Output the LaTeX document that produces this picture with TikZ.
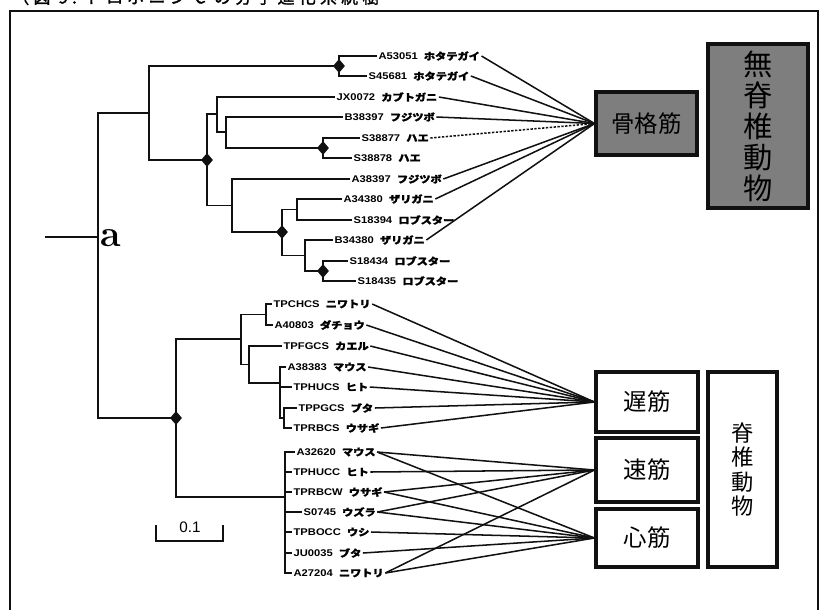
\documentclass[tikz,border=0pt]{standalone}
\usepackage{fontspec}
\newfontfamily\lsans{Liberation Sans}
\newfontfamily\jp{Noto Sans CJK JP}
\newfontfamily\jpbold{Noto Sans CJK JP}[FakeBold=1.6]
\newfontfamily\jptitle{Noto Sans CJK JP}[FakeBold=1.6,LetterSpace=25]
\usetikzlibrary{calc,positioning,shapes.geometric}
\definecolor{Ink}{HTML}{111111}
\definecolor{Shade}{HTML}{7E7E7E}
\newcommand\leafname[2]{\scalebox{1.15}[1]{\lsans\bfseries #1\hspace{0.55em}{\jpbold #2}}}

\begin{document}
\begin{tikzpicture}[x=0.3mm,y=-0.3mm,
  leaf/.style={anchor=west,inner sep=1.2pt,font=\fontsize{8.3}{9}\selectfont},
  tree/.style={line width=1.6pt,Ink},
  link/.style={line width=1.3pt,Ink},
  knot/.style={diamond,fill=Ink,inner sep=0pt,minimum width=3.6mm,minimum height=4.2mm},
  musclebox/.style={draw=Ink,line width=2.6pt,inner sep=0pt,font=\jp\fontsize{20}{22}\selectfont},
  taxonbox/.style={draw=Ink,line width=2.6pt,inner sep=0pt,align=center}]
\useasboundingbox (0,0) rectangle (824,609);
\clip (0,0) rectangle (824,609);

% Caption and frame.
\node[anchor=west,inner sep=0pt,font=\jptitle\fontsize{14.5}{15}\selectfont] (caption) at (12,-3)
  {（図 9.\ トロポニン C の分子進化系統樹};
\draw[line width=1.2pt,Ink] (10,620) |- (818,11) -- (818,620);

% Invertebrate leaves.
\foreach \id/\sp/\x/\y in {A53051/ホタテガイ/377/56, S45681/ホタテガイ/367/76,
    JX0072/カブトガニ/335/97, B38397/フジツボ/343/117, S38877/ハエ/360/138,
    S38878/ハエ/352/158, A38397/フジツボ/350/179, A34380/ザリガニ/342/199,
    S18394/ロブスター/352/220, B34380/ザリガニ/333/240,
    S18434/ロブスター/348/261, S18435/ロブスター/356/281}
  \node[leaf] (\id) at (\x,\y) {\leafname{\id}{\sp}};

% Vertebrate leaves.
\foreach \id/\sp/\x/\y in {TPCHCS/ニワトリ/272/304, A40803/ダチョウ/273/325,
    TPFGCS/カエル/282/346, A38383/マウス/286/367, TPHUCS/ヒト/292/387,
    TPPGCS/ブタ/297/408, TPRBCS/ウサギ/292/428,
    A32620/マウス/295/452, TPHUCC/ヒト/292/472, TPRBCW/ウサギ/292/492,
    S0745/ウズラ/302/512, TPBOCC/ウシ/292/532, JU0035/ブタ/292/553,
    A27204/ニワトリ/292/573}
  \node[leaf] (\id) at (\x,\y) {\leafname{\id}{\sp}};

% Branch points.
\coordinate (stub) at (45,237);
\coordinate (root) at (98,237);
\coordinate (inv) at (149,113);
\coordinate (scallop) at (339,66);
\coordinate (arth) at (207,160);
\coordinate (crab) at (217,114);
\coordinate (barn) at (226,132);
\coordinate (fly) at (323,148);
\coordinate (crus) at (232,205.5);
\coordinate (dec) at (282,232);
\coordinate (cray) at (297,209.5);
\coordinate (lobs) at (305,255.5);
\coordinate (lobtwo) at (323,271);
\coordinate (vert) at (176,418);
\coordinate (slowcl) at (241,339);
\coordinate (birds) at (266,314.5);
\coordinate (tetra) at (249,364.5);
\coordinate (mamm) at (280,383);
\coordinate (pigrab) at (284,418);
\coordinate (cardcl) at (285,497);

% Tree.
\draw[tree] (stub) -- (root);
\draw[tree] (root) |- (inv);
\draw[tree] (root) |- (vert);
\draw[tree] (inv) |- (scallop);
\draw[tree] (inv) |- (arth);
\draw[tree] (scallop) |- (A53051.west);
\draw[tree] (scallop) |- (S45681.west);
\draw[tree] (arth) |- (crab);
\draw[tree] (arth) |- (crus);
\draw[tree] (crab) |- (JX0072.west);
\draw[tree] (crab) |- (barn);
\draw[tree] (barn) |- (B38397.west);
\draw[tree] (barn) |- (fly);
\draw[tree] (fly) |- (S38877.west);
\draw[tree] (fly) |- (S38878.west);
\draw[tree] (crus) |- (A38397.west);
\draw[tree] (crus) |- (dec);
\draw[tree] (dec) |- (cray);
\draw[tree] (dec) |- (lobs);
\draw[tree] (cray) |- (A34380.west);
\draw[tree] (cray) |- (S18394.west);
\draw[tree] (lobs) |- (B34380.west);
\draw[tree] (lobs) |- (lobtwo);
\draw[tree] (lobtwo) |- (S18434.west);
\draw[tree] (lobtwo) |- (S18435.west);

\draw[tree] (vert) |- (slowcl);
\draw[tree] (vert) |- (cardcl);
\draw[tree] (slowcl) |- (birds);
\draw[tree] (slowcl) |- (tetra);
\draw[tree] (birds) |- (TPCHCS.west);
\draw[tree] (birds) |- (A40803.west);
\draw[tree] (tetra) |- (TPFGCS.west);
\draw[tree] (tetra) |- (mamm);
\draw[tree] (mamm) |- (A38383.west);
\draw[tree] (mamm) |- (TPHUCS.west);
\draw[tree] (mamm) |- (pigrab);
\draw[tree] (pigrab) |- (TPPGCS.west);
\draw[tree] (pigrab) |- (TPRBCS.west);
\foreach \id in {A32620,TPHUCC,TPRBCW,S0745,TPBOCC,JU0035,A27204}
  \draw[tree] (cardcl) |- (\id.west);

\foreach \c in {scallop,arth,fly,dec,lobtwo,vert}
  \node[knot] at (\c) {};

\node[font=\bfseries\fontsize{32}{32}\selectfont,inner sep=0pt] (alabel) at (111,238) {a};

% Scale bar.
\coordinate (barl) at (156,525);
\coordinate (barr) at (223,525);
\draw[line width=1.3pt,Ink] (barl) -- ++(0,16) -| (barr);
\node[font=\lsans\fontsize{13}{13}\selectfont,inner sep=0pt] (barlabel) at (190,527) {0.1};

% Muscle and taxon boxes.
\node[musclebox,fill=Shade,minimum width=30.3mm,minimum height=18.9mm] (skel) at (646.5,123.5) {骨格筋};
\node[taxonbox,fill=Shade,minimum width=30mm,minimum height=49.2mm,
  font=\jp\fontsize{25}{26.5}\selectfont] (invert) at (758,126) {無\\脊\\椎\\動\\物};
\node[musclebox,minimum width=30.6mm,minimum height=18mm] (slow) at (647,402) {遅筋};
\node[musclebox,minimum width=30.6mm,minimum height=19.2mm] (fast) at (647,470) {速筋};
\node[musclebox,minimum width=30.6mm,minimum height=17.4mm] (heart) at (647,538) {心筋};
\node[taxonbox,minimum width=20.7mm,minimum height=58.5mm,
  font=\jp\fontsize{19}{20.5}\selectfont] (vertebr) at (742.5,469.5) {脊\\椎\\動\\物};

% Links from sequences to muscle types.
\foreach \id in {A53051,S45681,JX0072,B38397,A38397,A34380,B34380}
  \draw[link] (\id.east) -- (skel.west);
\draw[link,dash pattern=on 2pt off 1.3pt] (S38877.east) -- (skel.west);
\foreach \id in {TPCHCS,A40803,TPFGCS,A38383,TPHUCS,TPPGCS,TPRBCS}
  \draw[link] (\id.east) -- (slow.west);
\foreach \id in {A32620,TPHUCC,TPRBCW,S0745,A27204}
  \draw[link] (\id.east) -- (fast.west);
\foreach \id in {A32620,TPRBCW,S0745,TPBOCC,JU0035,A27204}
  \draw[link] (\id.east) -- (heart.west);
\end{tikzpicture}
\end{document}
